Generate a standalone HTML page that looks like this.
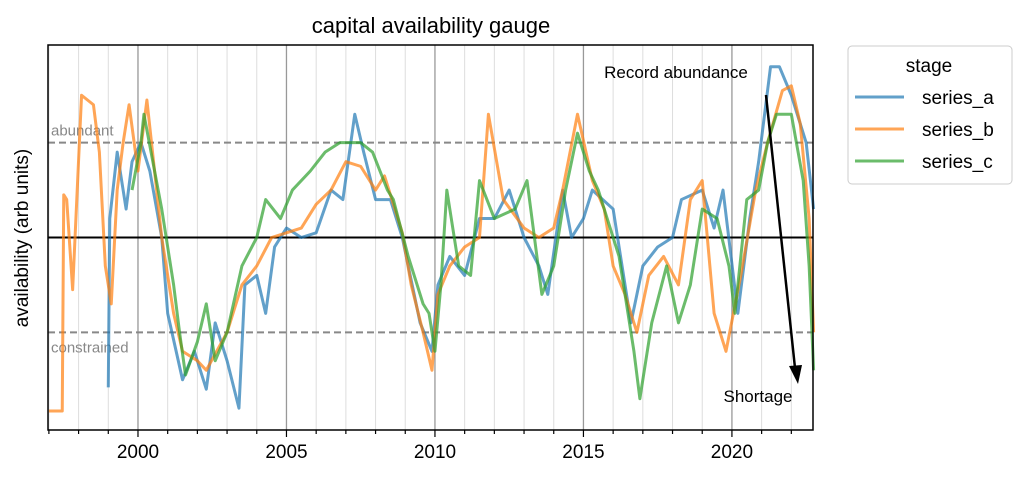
<!DOCTYPE html>
<html><head><meta charset="utf-8"><style>
body{margin:0;background:#fff;}
svg{display:block;font-family:"Liberation Sans",sans-serif;}
</style></head><body>
<svg id="chart" width="1024" height="478" viewBox="0 0 1024 478">
<text x="431" y="33" font-size="22" text-anchor="middle">capital availability gauge</text>
<text transform="translate(28,238) rotate(-90)" font-size="19" text-anchor="middle">availability (arb units)</text>
<g id="grid"></g>
<g id="refs"></g>
<g id="series"></g>
<rect x="48" y="45" width="765" height="385" fill="none" stroke="#000" stroke-width="1.5"/>
<g id="xaxis"></g>
<g>
<text x="676" y="78" font-size="17" text-anchor="middle">Record abundance</text>
<line x1="766" y1="95" x2="795" y2="368" stroke="#000" stroke-width="2.5"/>
<polygon points="789,366 802,365 798,384" fill="#000"/>
<text x="758" y="402" font-size="17" text-anchor="middle">Shortage</text>
</g>
<g>
<rect x="848" y="46" width="164" height="138" rx="4" fill="#fff" stroke="#ccc"/>
<text x="929" y="72" font-size="19" text-anchor="middle">stage</text>
<line x1="855" y1="97" x2="904" y2="97" stroke="#1f77b4" stroke-opacity="0.7" stroke-width="3"/>
<text x="922" y="104" font-size="19">series_a</text>
<line x1="855" y1="129" x2="904" y2="129" stroke="#ff7f0e" stroke-opacity="0.7" stroke-width="3"/>
<text x="922" y="136" font-size="19">series_b</text>
<line x1="855" y1="161" x2="904" y2="161" stroke="#2ca02c" stroke-opacity="0.7" stroke-width="3"/>
<text x="922" y="168" font-size="19">series_c</text>
</g>
</svg>
<script>
const xTicks=[2000,2005,2010,2015,2020];
const tA=[1999.0,1999.05,1999.3,1999.6,1999.8,2000.1,2000.4,2000.8,2001.0,2001.5,2001.9,2002.3,2002.6,2003.0,2003.4,2003.6,2004,2004.3,2004.6,2005,2005.5,2006,2006.5,2006.9,2007.3,2007.6,2008,2008.5,2008.9,2009.5,2009.9,2010.1,2010.5,2011,2011.5,2012,2012.5,2013,2013.5,2013.8,2014.3,2014.6,2015,2015.3,2016,2016.4,2016.6,2017,2017.5,2018,2018.3,2019,2019.4,2019.7,2020.2,2020.6,2020.9,2021.3,2021.6,2022.0,2022.5,2022.75];
const vA=[-1.58,0.2,0.9,0.3,0.8,1.0,0.7,0,-0.8,-1.5,-1.2,-1.6,-0.9,-1.3,-1.8,-0.5,-0.4,-0.8,-0.1,0.1,0.0,0.05,0.5,0.4,1.3,0.9,0.4,0.4,0,-0.9,-1.2,-0.5,-0.2,-0.4,0.2,0.2,0.5,0.0,-0.3,-0.6,0.5,0,0.2,0.5,0.3,-0.5,-0.9,-0.3,-0.1,0,0.4,0.5,0.1,0.5,-0.8,0.2,0.8,1.8,1.8,1.5,1.0,0.3];
const tB=[1997.0,1997.45,1997.5,1997.6,1997.8,1998.1,1998.5,1998.7,1998.9,1999.1,1999.3,1999.5,1999.7,2000.0,2000.3,2000.8,2001.2,2001.5,2002,2002.3,2003,2003.5,2004,2004.5,2005,2005.5,2006,2006.5,2007,2007.5,2008,2008.3,2008.9,2009.2,2009.6,2009.9,2010.1,2010.5,2011,2011.5,2011.8,2012.3,2013,2013.5,2014,2014.3,2014.8,2015.3,2015.7,2016,2016.4,2016.8,2017.2,2017.7,2018.2,2018.6,2019.0,2019.4,2019.8,2020.3,2020.8,2021.2,2021.7,2022.0,2022.3,2022.6,2022.75];
const vB=[-1.83,-1.83,0.45,0.4,-0.55,1.5,1.4,0.9,-0.3,-0.7,0.5,1.0,1.4,0.7,1.45,0,-0.8,-1.2,-1.3,-1.4,-1.0,-0.5,-0.3,0,0.05,0.1,0.35,0.5,0.8,0.75,0.5,0.65,0.05,-0.5,-1.0,-1.4,-0.6,-0.3,-0.1,0,1.3,0.4,0.1,0.0,0.1,0.5,1.3,0.6,0.3,-0.3,-0.6,-1.0,-0.4,-0.2,-0.5,0.4,0.6,-0.8,-1.2,-0.4,0.5,1.0,1.55,1.6,1.2,0.2,-1.0];
const tC=[1999.8,2000.1,2000.2,2000.5,2000.8,2001.2,2001.4,2001.6,2002,2002.3,2002.6,2003,2003.5,2004,2004.3,2004.8,2005.2,2005.8,2006.3,2006.8,2007.5,2007.9,2008.4,2008.6,2009.1,2009.6,2009.8,2010.0,2010.2,2010.4,2010.8,2011.2,2011.5,2012,2012.7,2013.1,2013.6,2014,2014.4,2014.8,2015.2,2015.5,2015.8,2016.2,2016.7,2016.9,2017.3,2017.8,2018.2,2018.6,2019,2019.5,2019.9,2020.1,2020.5,2020.9,2021.2,2021.5,2022.0,2022.4,2022.6,2022.75];
const vC=[0.5,1.0,1.3,0.8,0.3,-0.5,-1.0,-1.45,-1.1,-0.7,-1.3,-1.0,-0.3,0.0,0.4,0.2,0.5,0.7,0.9,1.0,1.0,0.9,0.5,0.4,-0.2,-0.7,-0.8,-1.2,-0.5,0.5,-0.3,-0.4,0.6,0.2,0.3,0.6,-0.6,-0.3,0.5,1.1,0.7,0.5,0.2,-0.2,-1.2,-1.7,-0.9,-0.3,-0.9,-0.5,0.3,0.2,-0.3,-0.8,0.4,0.5,1.0,1.3,1.3,0.6,-0.3,-1.4];
const refVals=[1,-1];
const refLabels=["abundant","constrained"];

const NS="http://www.w3.org/2000/svg";
const X0=48,X1=813,T0=1996.97,T1=2022.73,Y0=45,Y1=430,V0=2.03,V1=-2.03;
const xs=t=>X0+(t-T0)/(T1-T0)*(X1-X0);
const ys=v=>Y0+(v-V0)/(V1-V0)*(Y1-Y0);
function mk(tag,attrs,parent){const e=document.createElementNS(NS,tag);for(const k in attrs)e.setAttribute(k,attrs[k]);parent.appendChild(e);return e;}
const grid=document.getElementById('grid'),xa=document.getElementById('xaxis'),refs=document.getElementById('refs'),ser=document.getElementById('series');
for(let y=1997;y<=2022;y++){
  const x=xs(y),major=y%5===0;
  const g=mk('line',{x1:x,x2:x,y1:Y0,y2:Y1,stroke:major?'#999':'#ddd','stroke-width':major?1.3:1},grid);
  
  
  const tk=mk('line',{x1:x,x2:x,y1:Y1,y2:Y1+(major?7:4),stroke:'#000','stroke-width':1.2},xa);
  
  
}
xTicks.forEach(t=>{
  const e=mk('text',{x:xs(t),y:Y1+28,'font-size':19,'text-anchor':'middle'},xa);e.textContent=t;
  
  
});
refVals.forEach((v,i)=>{
  const l=mk('line',{x1:X0,x2:X1,y1:ys(v),y2:ys(v),stroke:'#888','stroke-width':2,'stroke-dasharray':'7,4'},refs);
  
  
  const t=mk('text',{x:X0+3,y:ys(v)+(v>0?-7:20),'font-size':15,fill:'#888'},refs);t.textContent=refLabels[i];
  
  
});
const z=mk('line',{x1:X0,x2:X1,y1:ys(0),y2:ys(0),stroke:'#000','stroke-width':2},refs);


[[tA,vA,'#1f77b4','series-a'],[tB,vB,'#ff7f0e','series-b'],[tC,vC,'#2ca02c','series-c']].forEach(([t,v,c,n])=>{
  const p=mk('polyline',{points:t.map((ti,i)=>xs(ti)+','+ys(v[i])).join(' '),fill:'none',stroke:c,'stroke-opacity':0.7,'stroke-width':3,'stroke-linejoin':'round'},ser);
  
  
});
</script>
</body></html>
